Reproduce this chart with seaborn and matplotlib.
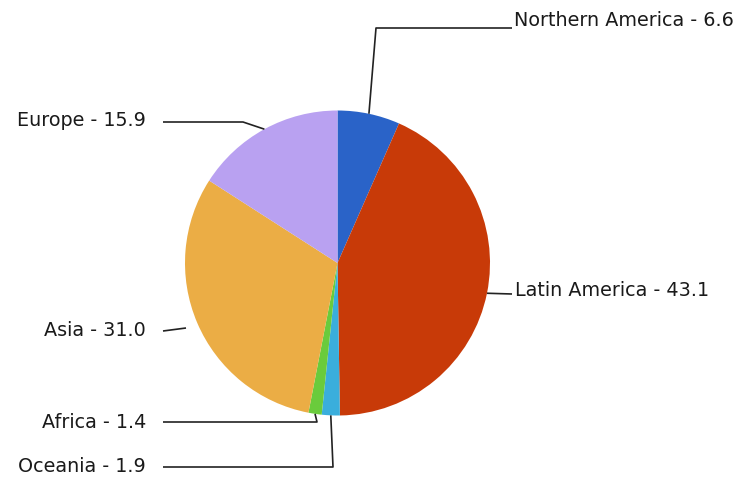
import numpy as np
import matplotlib
matplotlib.use('Agg')
import matplotlib.pyplot as plt
import seaborn as sns

regions = ['Northern America', 'Latin America', 'Oceania', 'Africa', 'Asia', 'Europe']
shares = [6.6, 43.1, 1.9, 1.4, 31.0, 15.9]
colors = ['#2a63c8', '#c83a08', '#3aaedc', '#6acb3c', '#ebad45', '#b9a1f1']

sns.set_style('white')
plt.rcParams['font.family'] = ['DejaVu Sans']

W, H = 741, 480
fig = plt.figure(figsize=(W / 100, H / 100), dpi=100)
ax = fig.add_axes([0, 0, 1, 1])
ax.set_xlim(0, W)
ax.set_ylim(0, H)
ax.set_aspect('equal')
ax.axis('off')

# pie geometry in pixel coords (top-left origin), converted to y-up
cx, cy, r = 337.5, 263, 152.5
wedges, _ = ax.pie(shares, colors=sns.color_palette(colors), startangle=90, counterclock=False,
                   center=(cx, H - cy), radius=r, normalize=True,
                   wedgeprops=dict(linewidth=0))
ax.set_xlim(0, W)
ax.set_ylim(0, H)

# label layout: elbow points (pixel, top origin), text anchor and alignment
layout = {
    'Northern America': dict(path=[(376, 28), (512, 28)], text=(514, 20), ha='left'),
    'Latin America': dict(path=[(512, 294)], text=(515, 291), ha='left'),
    'Oceania': dict(path=[(333, 467), (163, 467)], text=(146, 467), ha='right'),
    'Africa': dict(path=[(317, 422), (163, 422)], text=(146, 422), ha='right'),
    'Asia': dict(path=[(163, 331)], text=(146, 331), ha='right'),
    'Europe': dict(path=[(243, 122), (163, 122)], text=(146, 121), ha='right'),
}

for w, name, val in zip(wedges, regions, shares):
    mid = np.deg2rad((w.theta1 + w.theta2) / 2)
    ex, ey = cx + r * np.cos(mid), (H - cy) + r * np.sin(mid)
    if name == 'Asia':
        # the Asia leader meets the rim a little lower than the wedge middle
        ex, ey = 186, H - 328
    spec = layout[name]
    xs = [ex] + [p[0] for p in spec['path']]
    ys = [ey] + [H - p[1] for p in spec['path']]
    ax.plot(xs, ys, color='#222222', lw=1.2, solid_capstyle='butt')
    tx, ty = spec['text']
    ax.text(tx, H - ty, f'{name} - {val:.1f}', ha=spec['ha'], va='center',
            fontsize=13.8, color='#1a1a1a')

fig.savefig('out.png', dpi=100)
